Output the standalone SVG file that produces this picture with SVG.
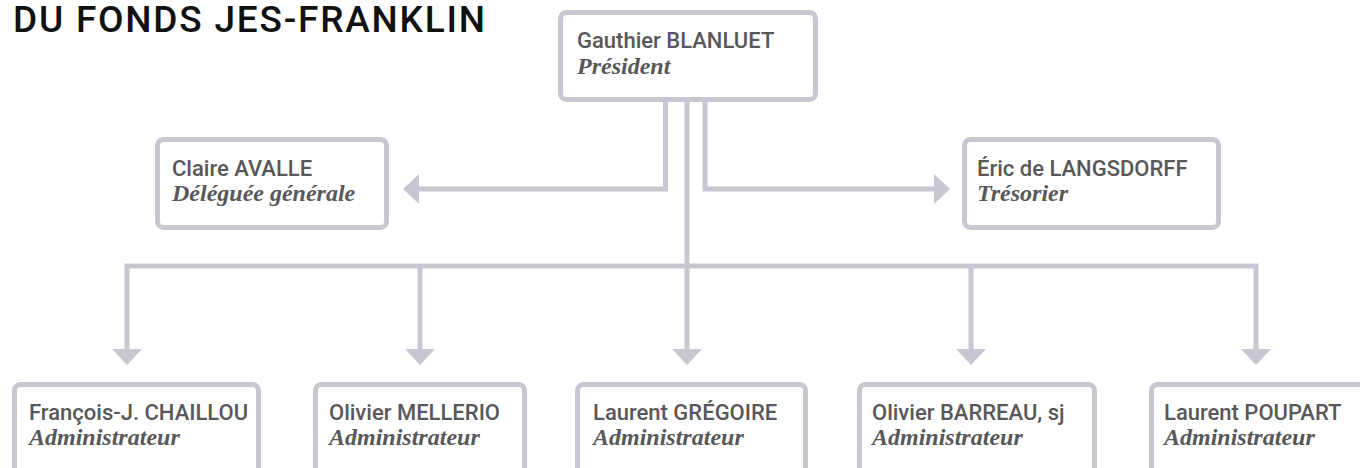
<svg xmlns="http://www.w3.org/2000/svg" width="1360" height="468" viewBox="0 0 1360 468">
<style>
.box{fill:#ffffff;stroke:#c7c7d1;stroke-width:5}
.name{font-family:Roboto,"Liberation Sans",sans-serif;font-weight:500;font-size:22px;fill:#58585a}
.role{font-family:"Liberation Serif","DejaVu Serif",serif;font-style:italic;font-weight:bold;font-size:24px;fill:#58585a}
.title{font-family:Roboto,"Liberation Sans",sans-serif;font-weight:500;font-size:37px;fill:#111111}
.conn{fill:none;stroke:#c7c7d1;stroke-width:5;stroke-linejoin:miter}
</style>
<defs>
<marker id="arr" viewBox="0 0 16 30" refX="0" refY="15" markerWidth="16" markerHeight="30" markerUnits="userSpaceOnUse" orient="auto-start-reverse">
<path d="M0,0 L16,15 L0,30 Z" fill="#c7c7d1"/>
</marker>
</defs>
<rect width="1360" height="468" fill="#ffffff"/>
<text class="title" x="13" y="32" textLength="472" lengthAdjust="spacing">DU FONDS JES-FRANKLIN</text>
<g id="connectors">
<path class="conn" d="M665.5,101 V189 H419" marker-end="url(#arr)"/>
<path class="conn" d="M705,101 V189 H934" marker-end="url(#arr)"/>
<path class="conn" d="M687,101 V349" marker-end="url(#arr)"/>
<path class="conn" d="M127,349 V266 H1256 V349" marker-start="url(#arr)" marker-end="url(#arr)"/>
<path class="conn" d="M420,266 V349" marker-end="url(#arr)"/>
<path class="conn" d="M971,266 V349" marker-end="url(#arr)"/>
</g>
<g id="president">
<rect class="box" x="560.5" y="12.5" width="255" height="87" rx="6"/>
<text class="name" x="577" y="48">Gauthier BLANLUET</text>
<text class="role" x="577" y="74">Président</text>
</g>
<g id="deleguee">
<rect class="box" x="157.5" y="139.5" width="229" height="88" rx="6"/>
<text class="name" x="172" y="176">Claire AVALLE</text>
<text class="role" x="172" y="201">Déléguée générale</text>
</g>
<g id="tresorier">
<rect class="box" x="964.5" y="139.5" width="254" height="88" rx="6"/>
<text class="name" x="977" y="176">Éric de LANGSDORFF</text>
<text class="role" x="977" y="201">Trésorier</text>
</g>
<g id="admin1">
<rect class="box" x="14.5" y="384.5" width="244" height="120" rx="6"/>
<text class="name" x="29" y="420">François-J. CHAILLOU</text>
<text class="role" x="29" y="445">Administrateur</text>
</g>
<g id="admin2">
<rect class="box" x="315.5" y="384.5" width="209" height="120" rx="6"/>
<text class="name" x="329" y="420">Olivier MELLERIO</text>
<text class="role" x="329" y="445">Administrateur</text>
</g>
<g id="admin3">
<rect class="box" x="577.5" y="384.5" width="228" height="120" rx="6"/>
<text class="name" x="593" y="420">Laurent GRÉGOIRE</text>
<text class="role" x="593" y="445">Administrateur</text>
</g>
<g id="admin4">
<rect class="box" x="859.5" y="384.5" width="235" height="120" rx="6"/>
<text class="name" x="872" y="420">Olivier BARREAU, sj</text>
<text class="role" x="872" y="445">Administrateur</text>
</g>
<g id="admin5">
<rect class="box" x="1151.5" y="384.5" width="240" height="120" rx="6"/>
<text class="name" x="1164" y="420">Laurent POUPART</text>
<text class="role" x="1164" y="445">Administrateur</text>
</g>
</svg>
